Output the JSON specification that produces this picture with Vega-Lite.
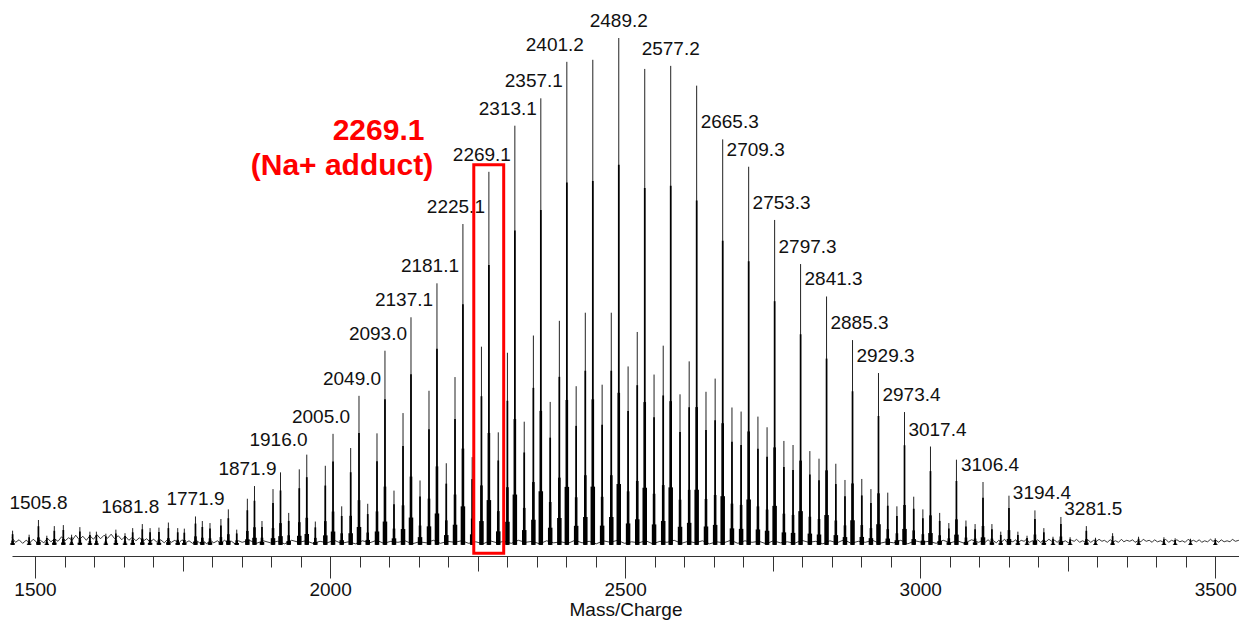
{
  "$schema": "https://vega.github.io/schema/vega-lite/v6.json",
  "width": 1227,
  "height": 556,
  "autosize": {"type": "none"},
  "padding": {"left": 12, "top": 0, "right": 0, "bottom": 66},
  "background": "white",
  "config": {"view": {"stroke": null}, "font": "Liberation Sans"},
  "datasets": {
    "noise": [
      {"m":1461,"v":1.4},{"m":1467,"v":0.5},{"m":1473,"v":1.0},{"m":1479,"v":0.3},{"m":1485,"v":0.9},{"m":1491,"v":0.4},{"m":1497,"v":1.1},{"m":1503,"v":0.5},{"m":1509,"v":0.9},{"m":1515,"v":0.4},{"m":1521,"v":1.3},{"m":1527,"v":0.6},{"m":1533,"v":1.2},{"m":1539,"v":0.7},{"m":1545,"v":1.6},{"m":1551,"v":0.8},{"m":1557,"v":1.4},{"m":1563,"v":0.9},{"m":1569,"v":1.9},{"m":1575,"v":1.0},{"m":1581,"v":1.7},{"m":1587,"v":0.9},{"m":1593,"v":1.8},{"m":1599,"v":1.1},{"m":1605,"v":2.0},{"m":1611,"v":1.2},{"m":1617,"v":1.9},{"m":1623,"v":1.3},{"m":1629,"v":2.1},{"m":1635,"v":1.2},{"m":1641,"v":1.8},{"m":1647,"v":1.0},{"m":1653,"v":1.7},{"m":1659,"v":0.9},{"m":1665,"v":1.5},{"m":1671,"v":0.8},{"m":1677,"v":1.4},{"m":1683,"v":0.7},{"m":1689,"v":1.2},{"m":1695,"v":0.6},{"m":1701,"v":1.1},{"m":1707,"v":0.5},{"m":1713,"v":1.0},{"m":1719,"v":0.4},{"m":1725,"v":1.1},{"m":1731,"v":0.5},{"m":1737,"v":0.9},{"m":1743,"v":0.3},{"m":1749,"v":1.0},{"m":1755,"v":0.4},{"m":1761,"v":0.8},{"m":1767,"v":0.3},{"m":1773,"v":0.9},{"m":1779,"v":0.4},{"m":1785,"v":0.8},{"m":1791,"v":0.2},{"m":1797,"v":0.9},{"m":1803,"v":0.4},{"m":1809,"v":0.8},{"m":1815,"v":0.3},{"m":1821,"v":0.9},{"m":1827,"v":0.4},{"m":1833,"v":0.7},{"m":1839,"v":0.2},{"m":1845,"v":0.8},
      {"m":1851,"v":0.5},{"m":1863,"v":0.9},{"m":1875,"v":0.3},{"m":1887,"v":0.8},{"m":1899,"v":0.4},{"m":1911,"v":0.7},{"m":1923,"v":0.2},{"m":1935,"v":0.9},{"m":1947,"v":0.5},{"m":1959,"v":0.8},{"m":1971,"v":0.3},{"m":1983,"v":0.7},{"m":1995,"v":0.4},{"m":2007,"v":0.9},{"m":2019,"v":0.3},{"m":2031,"v":0.6},{"m":2043,"v":0.2},{"m":2055,"v":0.8},{"m":2067,"v":0.4},{"m":2079,"v":0.9},{"m":2091,"v":0.3},{"m":2103,"v":0.7},{"m":2115,"v":0.5},{"m":2127,"v":0.8},{"m":2139,"v":0.2},{"m":2151,"v":0.6},{"m":2163,"v":0.4},{"m":2175,"v":0.9},{"m":2187,"v":0.3},{"m":2199,"v":0.7},{"m":2211,"v":0.5},{"m":2223,"v":0.8},{"m":2235,"v":0.3},{"m":2247,"v":0.6},{"m":2259,"v":0.2},{"m":2271,"v":0.8},{"m":2283,"v":0.4},{"m":2295,"v":0.7},{"m":2307,"v":0.3},{"m":2319,"v":0.9},{"m":2331,"v":0.5},{"m":2343,"v":0.7},{"m":2355,"v":0.2},{"m":2367,"v":0.8},{"m":2379,"v":0.4},{"m":2391,"v":0.6},{"m":2403,"v":0.3},{"m":2415,"v":0.9},{"m":2427,"v":0.4},{"m":2439,"v":0.7},{"m":2451,"v":0.2},{"m":2463,"v":0.8},{"m":2475,"v":0.5},{"m":2487,"v":0.9},{"m":2499,"v":0.3},{"m":2511,"v":0.6},{"m":2523,"v":0.4},{"m":2535,"v":0.8},{"m":2547,"v":0.2},{"m":2559,"v":0.7},{"m":2571,"v":0.5},{"m":2583,"v":0.9},{"m":2595,"v":0.3},{"m":2607,"v":0.7},{"m":2619,"v":0.4},{"m":2631,"v":0.8},{"m":2643,"v":0.2},{"m":2655,"v":0.6},{"m":2667,"v":0.4},{"m":2679,"v":0.9},{"m":2691,"v":0.3},{"m":2703,"v":0.8},{"m":2715,"v":0.5},{"m":2727,"v":0.7},{"m":2739,"v":0.2},{"m":2751,"v":0.8},{"m":2763,"v":0.4},{"m":2775,"v":0.6},{"m":2787,"v":0.3},{"m":2799,"v":0.9},{"m":2811,"v":0.5},{"m":2823,"v":0.7},{"m":2835,"v":0.2},{"m":2847,"v":0.8},{"m":2859,"v":0.4},{"m":2871,"v":1.0},{"m":2883,"v":0.3},{"m":2895,"v":0.7},{"m":2907,"v":0.5},{"m":2919,"v":0.9},{"m":2931,"v":0.3},{"m":2943,"v":0.6},{"m":2955,"v":0.4},{"m":2967,"v":0.9},{"m":2979,"v":0.2},{"m":2991,"v":0.8},{"m":3003,"v":0.5},{"m":3015,"v":0.7},{"m":3027,"v":0.3},{"m":3039,"v":0.9},{"m":3051,"v":0.4},{"m":3063,"v":0.8},{"m":3075,"v":0.3},{"m":3087,"v":1.0},{"m":3099,"v":0.5},
      {"m":3106,"v":0.9},{"m":3110,"v":0.5},{"m":3115,"v":1.0},{"m":3119,"v":0.6},{"m":3124,"v":0.8},{"m":3129,"v":0.4},{"m":3133,"v":0.9},{"m":3138,"v":0.6},{"m":3143,"v":1.1},{"m":3147,"v":0.5},{"m":3152,"v":0.8},{"m":3157,"v":0.6},{"m":3162,"v":1.0},{"m":3166,"v":0.4},{"m":3171,"v":0.9},{"m":3176,"v":0.7},{"m":3180,"v":1.1},{"m":3185,"v":0.5},{"m":3190,"v":0.8},{"m":3195,"v":0.6},{"m":3199,"v":1.0},{"m":3204,"v":0.5},{"m":3209,"v":0.9},{"m":3213,"v":0.6},{"m":3218,"v":1.1},{"m":3223,"v":0.7},{"m":3228,"v":0.9},{"m":3232,"v":0.5},{"m":3237,"v":1.0},{"m":3242,"v":0.6},{"m":3246,"v":0.8},{"m":3251,"v":0.4},{"m":3256,"v":0.9},{"m":3261,"v":0.7},{"m":3265,"v":1.1},{"m":3270,"v":0.5},{"m":3275,"v":0.8},{"m":3279,"v":0.6},{"m":3284,"v":1.0},{"m":3289,"v":0.5},{"m":3294,"v":0.9},{"m":3298,"v":0.6},{"m":3303,"v":1.1},{"m":3308,"v":0.7},{"m":3312,"v":0.9},{"m":3317,"v":0.5},{"m":3322,"v":1.0},{"m":3327,"v":0.6},{"m":3331,"v":0.8},{"m":3336,"v":0.5},{"m":3341,"v":1.1},{"m":3345,"v":0.6},{"m":3350,"v":0.9},{"m":3355,"v":0.7},{"m":3360,"v":1.0},{"m":3364,"v":0.5},{"m":3369,"v":0.8},{"m":3374,"v":0.6},{"m":3378,"v":1.1},{"m":3383,"v":0.7},{"m":3388,"v":0.9},{"m":3393,"v":0.5},{"m":3397,"v":1.0},{"m":3402,"v":0.6},{"m":3407,"v":0.8},{"m":3411,"v":0.6},{"m":3416,"v":1.1},{"m":3421,"v":0.5},{"m":3426,"v":0.9},{"m":3430,"v":0.7},{"m":3435,"v":1.0},{"m":3440,"v":0.6},{"m":3444,"v":0.8},{"m":3449,"v":0.5},{"m":3454,"v":1.1},{"m":3459,"v":0.7},{"m":3463,"v":0.9},{"m":3468,"v":0.6},{"m":3473,"v":1.0},{"m":3477,"v":0.5},{"m":3482,"v":0.8},{"m":3487,"v":0.6},{"m":3492,"v":1.1},{"m":3496,"v":0.7},{"m":3501,"v":0.9},{"m":3506,"v":0.5},{"m":3510,"v":1.0},{"m":3515,"v":0.6},{"m":3520,"v":0.8},{"m":3525,"v":0.6},{"m":3529,"v":1.1},{"m":3534,"v":0.7},{"m":3540,"v":0.9}
    ],
    "peaks": [
      {"m":1462,"h":2.8},{"m":1490,"h":2.0},{"m":1505.8,"h":4.9},{"m":1520,"h":1.8},{"m":1532.7,"h":3.7},{"m":1548,"h":3.9},{"m":1562,"h":2.0},{"m":1576,"h":3.5},{"m":1593,"h":2.6},{"m":1604,"h":2.6},{"m":1620,"h":2.2},{"m":1637,"h":3.0},{"m":1652.5,"h":2.3},{"m":1665.5,"h":3.3},{"m":1681.8,"h":4.1},{"m":1695,"h":3.3},{"m":1710,"h":3.4},{"m":1726,"h":4.4},{"m":1741.8,"h":3.3},{"m":1753,"h":3.2},{"m":1771.9,"h":5.6},{"m":1783.5,"h":4.7},{"m":1796.5,"h":4.3},{"m":1815,"h":5.1},{"m":1827.6,"h":7.0},{"m":1841.8,"h":3.0},{"m":1859.8,"h":9.1},{"m":1871.9,"h":11.6},{"m":1884.6,"h":4.7},{"m":1903.3,"h":11.0},{"m":1916.0,"h":14.3},{"m":1929.9,"h":6.3},{"m":1947.8,"h":14.9},{"m":1960.5,"h":17.8},{"m":1975,"h":4.6},{"m":1991.9,"h":15.6},{"m":2005.0,"h":21.9},{"m":2019.7,"h":7.6},{"m":2034.9,"h":19.1},{"m":2049.0,"h":29.4},{"m":2063.8,"h":8.1},{"m":2079.5,"h":22.0},{"m":2093.0,"h":38.3},{"m":2108.3,"h":10.7},{"m":2123.6,"h":26.0},{"m":2137.1,"h":44.9},{"m":2152.4,"h":12.7},{"m":2167.6,"h":30.4},{"m":2181.1,"h":51.6},{"m":2196.9,"h":16.1},{"m":2211.7,"h":33.1},{"m":2225.1,"h":63.3},{"m":2240.8,"h":17.3},{"m":2256.5,"h":39.1},{"m":2269.1,"h":73.6},{"m":2285,"h":22.2},{"m":2300.5,"h":37.9},{"m":2313.1,"h":82.7},{"m":2329,"h":24.3},{"m":2344.5,"h":41.3},{"m":2357.1,"h":88.1},{"m":2373,"h":28.2},{"m":2388.5,"h":44.2},{"m":2401.2,"h":95.3},{"m":2417,"h":31.3},{"m":2432.5,"h":45.8},{"m":2445.2,"h":95.7},{"m":2461,"h":31.6},{"m":2476.5,"h":45.8},{"m":2489.2,"h":100},{"m":2505,"h":35.2},{"m":2520.5,"h":42.0},{"m":2533.2,"h":93.9},{"m":2549,"h":33.6},{"m":2564.5,"h":39.3},{"m":2577.2,"h":94.5},{"m":2593,"h":29.7},{"m":2608.5,"h":36.2},{"m":2621.2,"h":90.6},{"m":2637,"h":30.2},{"m":2652.5,"h":32.8},{"m":2665.3,"h":80.0},{"m":2681,"h":27.1},{"m":2696.5,"h":26.3},{"m":2709.3,"h":74.6},{"m":2725,"h":25.3},{"m":2740.5,"h":23.2},{"m":2753.3,"h":64.1},{"m":2769,"h":20.5},{"m":2784.5,"h":19.7},{"m":2797.3,"h":55.4},{"m":2813,"h":18.5},{"m":2828.5,"h":17.0},{"m":2841.3,"h":49.0},{"m":2857,"h":16.0},{"m":2872.5,"h":12.8},{"m":2885.3,"h":40.4},{"m":2901,"h":13.0},{"m":2916.5,"h":11.0},{"m":2929.3,"h":33.9},{"m":2945,"h":10.3},{"m":2960.5,"h":7.6},{"m":2973.4,"h":26.2},{"m":2989,"h":9.5},{"m":3004.5,"h":7.0},{"m":3017.4,"h":19.4},{"m":3033,"h":6.3},{"m":3048.5,"h":4.3},{"m":3061.4,"h":16.8},{"m":3077.5,"h":4.8},{"m":3093,"h":4.1},{"m":3106.4,"h":12.4},{"m":3121.5,"h":4.1},{"m":3136.5,"h":2.6},{"m":3150.4,"h":9.7},{"m":3165.5,"h":2.6},{"m":3181,"h":1.8},{"m":3194.4,"h":6.8},{"m":3209.5,"h":3.3},{"m":3225,"h":1.6},{"m":3238.4,"h":5.5},{"m":3254,"h":1.5},{"m":3281.5,"h":3.7},{"m":3297,"h":1.4},{"m":3326,"h":2.3},{"m":3370,"h":1.6},{"m":3413,"h":1.5},{"m":3432,"h":1.3},{"m":3458,"h":1.2},{"m":3500,"h":1.3}
    ],
    "labels": [
      {"m":1505.8,"h":4.9,"t":"1505.8"},{"m":1681.8,"h":4.1,"t":"1681.8"},{"m":1771.9,"h":5.6,"t":"1771.9"},{"m":1871.9,"h":11.6,"t":"1871.9"},{"m":1916.0,"h":14.3,"t":"1916.0"},{"m":2005.0,"h":21.9,"t":"2005.0"},{"m":2049.0,"h":29.4,"t":"2049.0"},{"m":2093.0,"h":38.3,"t":"2093.0"},{"m":2137.1,"h":44.9,"t":"2137.1"},{"m":2181.1,"h":51.6,"t":"2181.1"},{"m":2225.1,"h":63.3,"t":"2225.1"},{"m":2269.1,"h":73.6,"t":"2269.1"},{"m":2313.1,"h":82.7,"t":"2313.1"},{"m":2357.1,"h":88.1,"t":"2357.1"},{"m":2401.2,"h":95.3,"t":"2401.2"},{"m":2489.2,"h":100,"t":"2489.2"},{"m":2577.2,"h":94.5,"t":"2577.2"},{"m":2665.3,"h":80.0,"t":"2665.3"},{"m":2709.3,"h":74.6,"t":"2709.3"},{"m":2753.3,"h":64.1,"t":"2753.3"},{"m":2797.3,"h":55.4,"t":"2797.3"},{"m":2841.3,"h":49.0,"t":"2841.3"},{"m":2885.3,"h":40.4,"t":"2885.3"},{"m":2929.3,"h":33.9,"t":"2929.3"},{"m":2973.4,"h":26.2,"t":"2973.4"},{"m":3017.4,"h":19.4,"t":"3017.4"},{"m":3106.4,"h":12.4,"t":"3106.4"},{"m":3194.4,"h":6.8,"t":"3194.4"},{"m":3281.5,"h":3.7,"t":"3281.5"}
    ],
    "notes": [
      {"t":"2269.1","m":2082.1,"v":79.9},
      {"t":"(Na+ adduct)","m":2020.2,"v":73.07}
    ],
    "box": [
      {"m1":2243.5,"m2":2294.2,"v1":75.0,"v2":-1.67}
    ]
  },
  "resolve": {"axis": {"x": "independent"}, "scale": {"y": "independent"}},
  "layer": [
    {
      "data": {"name": "noise"},
      "mark": {"type": "line", "color": "#222", "strokeWidth": 0.9, "interpolate": "linear"},
      "encoding": {
        "x": {"field": "m", "type": "quantitative", "scale": {"domain": [1461, 3540.2], "nice": false, "zero": false},
              "axis": {"orient": "bottom", "values": [1500,1550,1600,1650,1700,1750,1800,1850,1900,1950,2000,2050,2100,2150,2200,2250,2300,2350,2400,2450,2500,2550,2600,2650,2700,2750,2800,2850,2900,2950,3000,3050,3100,3150,3200,3250,3300,3350,3400,3450,3500],
                       "tickSize": 11, "tickColor": "#333", "tickWidth": 1, "domain": true, "domainColor": "#333", "domainWidth": 1, "labels": false, "title": null, "grid": false}},
        "y": {"field": "v", "type": "quantitative", "scale": {"domain": [-2.2, 107.5], "nice": false, "zero": false}, "axis": null}
      }
    },
    {
      "data": {"name": "peaks"},
      "mark": {"type": "rule", "color": "#222", "strokeWidth": 1},
      "encoding": {
        "x": {"field": "m", "type": "quantitative", "scale": {"domain": [1461, 3540.2], "nice": false, "zero": false},
              "axis": {"orient": "bottom", "values": [1750, 2250, 2750, 3250], "tickSize": 15, "tickColor": "#333", "tickWidth": 1, "domain": false, "labels": false, "title": null, "grid": false}},
        "y": {"field": "h", "type": "quantitative", "scale": {"domain": [-2.2, 107.5], "nice": false, "zero": false}, "axis": null},
        "y2": {"datum": 0}
      }
    },
    {
      "data": {"name": "peaks"},
      "mark": {"type": "rule", "color": "#000", "strokeWidth": 1.7},
      "encoding": {
        "x": {"field": "m", "type": "quantitative", "scale": {"domain": [1461, 3540.2], "nice": false, "zero": false}, "axis": null},
        "y": {"field": "h", "type": "quantitative", "scale": {"domain": [-2.933, 143.333], "nice": false, "zero": false}, "axis": null},
        "y2": {"datum": 0}
      }
    },
    {
      "data": {"name": "peaks"},
      "mark": {"type": "rule", "color": "#000", "strokeWidth": 2.6},
      "encoding": {
        "x": {"field": "m", "type": "quantitative", "scale": {"domain": [1461, 3540.2], "nice": false, "zero": false}, "axis": null},
        "y": {"field": "h", "type": "quantitative", "scale": {"domain": [-7.333, 358.333], "nice": false, "zero": false}, "axis": null},
        "y2": {"datum": 0}
      }
    },
    {
      "data": {"name": "peaks"},
      "mark": {"type": "rule", "color": "#000", "strokeWidth": 4.5},
      "encoding": {
        "x": {"field": "m", "type": "quantitative", "scale": {"domain": [1461, 3540.2], "nice": false, "zero": false}, "axis": null},
        "y": {"field": "h", "type": "quantitative", "scale": {"domain": [-18.333, 895.833], "nice": false, "zero": false}, "axis": null},
        "y2": {"datum": 0}
      }
    },
    {
      "data": {"name": "labels"},
      "transform": [{"filter": {"field": "m", "oneOf": [1505.8, 1771.9, 2489.2, 2577.2]}}],
      "mark": {"type": "text", "fontSize": 19, "color": "#111", "align": "center", "baseline": "alphabetic", "dy": -11, "dx": 0},
      "encoding": {
        "x": {"field": "m", "type": "quantitative", "scale": {"domain": [1461, 3540.2], "nice": false, "zero": false},
              "axis": {"orient": "bottom", "values": [1500, 2000, 2500, 3000, 3500], "format": "d", "tickSize": 22, "tickColor": "#333", "tickWidth": 1, "domain": false, "grid": false,
                       "labelFontSize": 19, "labelColor": "#111", "labelPadding": 2, "labelFont": "Liberation Sans", "labelFlush": false,
                       "title": "Mass/Charge", "titleFontSize": 19, "titleFontWeight": "normal", "titleColor": "#111", "titleFont": "Liberation Sans", "titlePadding": 1}},
        "y": {"field": "h", "type": "quantitative", "scale": {"domain": [-2.2, 107.5], "nice": false, "zero": false}, "axis": null},
        "text": {"field": "t"}
      }
    },
    {
      "data": {"name": "labels"},
      "transform": [{"filter": {"field": "m", "oneOf": [1916.0]}}],
      "mark": {"type": "text", "fontSize": 19, "color": "#111", "align": "center", "baseline": "alphabetic", "dy": -26, "dx": -2},
      "encoding": {
        "x": {"field": "m", "type": "quantitative", "scale": {"domain": [1461, 3540.2], "nice": false, "zero": false}, "axis": null},
        "y": {"field": "h", "type": "quantitative", "scale": {"domain": [-2.2, 107.5], "nice": false, "zero": false}, "axis": null},
        "text": {"field": "t"}
      }
    },
    {
      "data": {"name": "labels"},
      "transform": [{"filter": {"field": "m", "oneOf": [1871.9, 2049.0, 2093.0, 2137.1, 2181.1, 2225.1, 2269.1, 2313.1, 2357.1]}}],
      "mark": {"type": "text", "fontSize": 19, "color": "#111", "align": "center", "baseline": "alphabetic", "dy": -11, "dx": -7},
      "encoding": {
        "x": {"field": "m", "type": "quantitative", "scale": {"domain": [1461, 3540.2], "nice": false, "zero": false}, "axis": null},
        "y": {"field": "h", "type": "quantitative", "scale": {"domain": [-2.2, 107.5], "nice": false, "zero": false}, "axis": null},
        "text": {"field": "t"}
      }
    },
    {
      "data": {"name": "labels"},
      "transform": [{"filter": {"field": "m", "oneOf": [1681.8, 2005.0, 2401.2]}}],
      "mark": {"type": "text", "fontSize": 19, "color": "#111", "align": "center", "baseline": "alphabetic", "dy": -11, "dx": -12},
      "encoding": {
        "x": {"field": "m", "type": "quantitative", "scale": {"domain": [1461, 3540.2], "nice": false, "zero": false}, "axis": null},
        "y": {"field": "h", "type": "quantitative", "scale": {"domain": [-2.2, 107.5], "nice": false, "zero": false}, "axis": null},
        "text": {"field": "t"}
      }
    },
    {
      "data": {"name": "labels"},
      "transform": [{"filter": {"field": "m", "gt": 2600}}],
      "mark": {"type": "text", "fontSize": 19, "color": "#111", "align": "center", "baseline": "alphabetic", "dy": -11, "dx": 7},
      "encoding": {
        "x": {"field": "m", "type": "quantitative", "scale": {"domain": [1461, 3540.2], "nice": false, "zero": false}, "axis": null},
        "y": {"field": "h", "type": "quantitative", "scale": {"domain": [-2.2, 107.5], "nice": false, "zero": false}, "axis": null},
        "text": {"field": "t"}
      }
    },
    {
      "data": {"name": "box"},
      "mark": {"type": "rect", "fill": "#ff0000", "fillOpacity": 0, "stroke": "#ff0000", "strokeWidth": 3},
      "encoding": {
        "x": {"field": "m1", "type": "quantitative", "scale": {"domain": [1461, 3540.2], "nice": false, "zero": false}, "axis": null},
        "x2": {"field": "m2"},
        "y": {"field": "v1", "type": "quantitative", "scale": {"domain": [-2.2, 107.5], "nice": false, "zero": false}, "axis": null},
        "y2": {"field": "v2"}
      }
    },
    {
      "data": {"name": "notes"},
      "mark": {"type": "text", "fontSize": 30, "fontWeight": "bold", "color": "#ff0000", "align": "center", "baseline": "alphabetic"},
      "encoding": {
        "x": {"field": "m", "type": "quantitative", "scale": {"domain": [1461, 3540.2], "nice": false, "zero": false}, "axis": null},
        "y": {"field": "v", "type": "quantitative", "scale": {"domain": [-2.2, 107.5], "nice": false, "zero": false}, "axis": null},
        "text": {"field": "t"}
      }
    }
  ]
}
